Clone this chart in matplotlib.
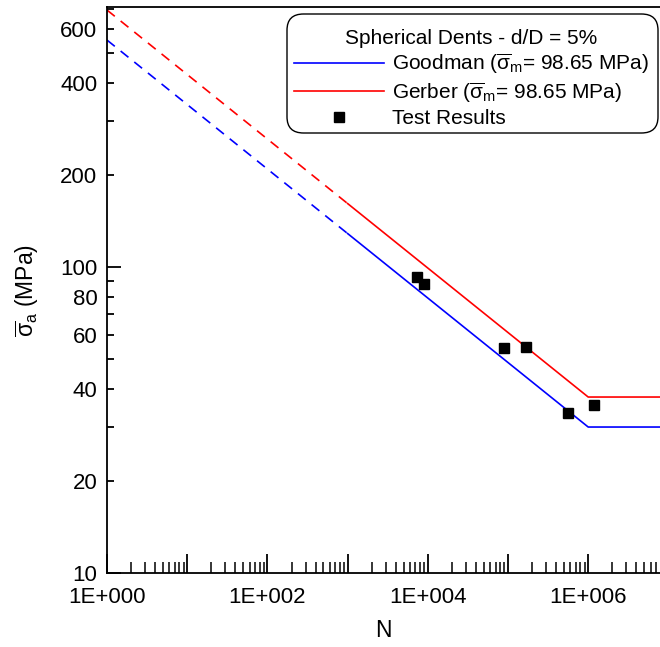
import numpy as np
import matplotlib
matplotlib.use("Agg")
import matplotlib.pyplot as plt
from matplotlib.patches import FancyBboxPatch
from matplotlib.ticker import FixedLocator, FuncFormatter, NullFormatter

plt.rcParams['font.family'] = ['Liberation Sans', 'DejaVu Sans']
plt.rcParams['mathtext.fontset'] = 'custom'
plt.rcParams['mathtext.rm'] = 'Liberation Sans'
plt.rcParams['mathtext.it'] = 'Liberation Sans'
plt.rcParams['mathtext.bf'] = 'Liberation Sans:bold'

# S-N curves (vertices)
n_dashed = [1, 1e3]
n_solid = [1e3, 1e6, 1e7]
goodman_dashed = [552, 128.7]
goodman_solid = [128.7, 30.0, 30.0]
gerber_dashed = [692, 161.3]
gerber_solid = [161.3, 37.6, 37.6]

# test results
test_n = [7.4e3, 8.9e3, 9.0e4, 1.66e5, 5.65e5, 1.17e6]
test_s = [92.9, 88.2, 54.5, 54.9, 33.4, 35.5]

legend_title = "Spherical Dents - d/D = 5%"
goodman_label = r"Goodman ($\overline{\sigma}_\mathrm{m}$= 98.65 MPa)"
gerber_label = r"Gerber ($\overline{\sigma}_\mathrm{m}$= 98.65 MPa)"

y_labelled = [20, 40, 60, 80, 200, 400, 600]
y_minor = [20, 30, 40, 50, 60, 70, 80, 90, 200, 300, 400, 500, 600, 700]

W, H = 660, 647
fig = plt.figure(figsize=(W / 100, H / 100), dpi=100)
ax = fig.add_axes([107 / W, 74 / H, 553 / W, 566 / H])

blue = '#0000ff'
red = '#ff0000'

ax.plot(n_dashed, goodman_dashed, color=blue, lw=1.2, dashes=(6, 4.5))
ax.plot(n_solid, goodman_solid, color=blue, lw=1.2, label=goodman_label)
ax.plot(n_dashed, gerber_dashed, color=red, lw=1.2, dashes=(6, 4.5))
ax.plot(n_solid, gerber_solid, color=red, lw=1.2, label=gerber_label)
ax.plot(test_n, test_s, 's', color='black', ms=7.5, label="Test Results")

ax.set_xscale('log')
ax.set_yscale('log')
ax.set_xlim(1, 10 ** (553 / 80.2))
ax.set_ylim(10, 708)

ax.spines['right'].set_visible(False)
for s in ['left', 'bottom', 'top']:
    ax.spines[s].set_linewidth(1.3)

# x ticks: long at decades, labels every two decades
ax.xaxis.set_major_locator(FixedLocator([10.0 ** e for e in range(0, 8)]))
ax.xaxis.set_minor_locator(FixedLocator([m * 10.0 ** e for e in range(0, 7) for m in range(2, 10)]))


def x_fmt(v, pos):
    e = int(round(np.log10(v)))
    return f"1E+{e:03d}" if e % 2 == 0 else ""


ax.xaxis.set_major_formatter(FuncFormatter(x_fmt))
ax.xaxis.set_minor_formatter(NullFormatter())

ax.yaxis.set_major_locator(FixedLocator([10, 100]))
ax.yaxis.set_minor_locator(FixedLocator(y_minor))
ax.yaxis.set_major_formatter(FuncFormatter(lambda v, p: f"{v:g}"))
ax.yaxis.set_minor_formatter(FuncFormatter(lambda v, p: f"{v:g}" if round(v) in y_labelled else ""))

ax.tick_params(axis='x', which='major', direction='in', length=14, width=1.3, labelsize=16, pad=10, top=False)
ax.tick_params(axis='x', which='minor', direction='in', length=8, width=1.1, top=False)
ax.tick_params(axis='y', which='major', direction='in', length=10, width=1.3, labelsize=16, pad=7, right=False)
ax.tick_params(axis='y', which='minor', direction='in', length=5, width=1.3, labelsize=16, pad=7, right=False)

ax.set_xlabel("N", fontsize=16.5, labelpad=8)
ax.set_ylabel(r"$\overline{\sigma}_\mathrm{a}$ (MPa)", fontsize=16.5, labelpad=14)

# legend box drawn separately so its padding can differ from the entries'
box = FancyBboxPatch((287 / W, 1 - 133 / H), (658 - 287) / W, (133 - 14) / H,
                     boxstyle='round,pad=0,rounding_size=0.025', transform=fig.transFigure,
                     facecolor='white', edgecolor='black', linewidth=1.0, zorder=4, clip_on=False)
ax.add_patch(box)

leg = ax.legend(title=legend_title, loc='upper left', bbox_to_anchor=(294 / W, 1 - 29 / H),
                bbox_transform=fig.transFigure, borderaxespad=0, borderpad=0, fontsize=15,
                title_fontsize=15, handlelength=4.3, handletextpad=0.4, labelspacing=0.2,
                frameon=False)
leg.set_zorder(5)

fig.savefig("out.png", dpi=100)
